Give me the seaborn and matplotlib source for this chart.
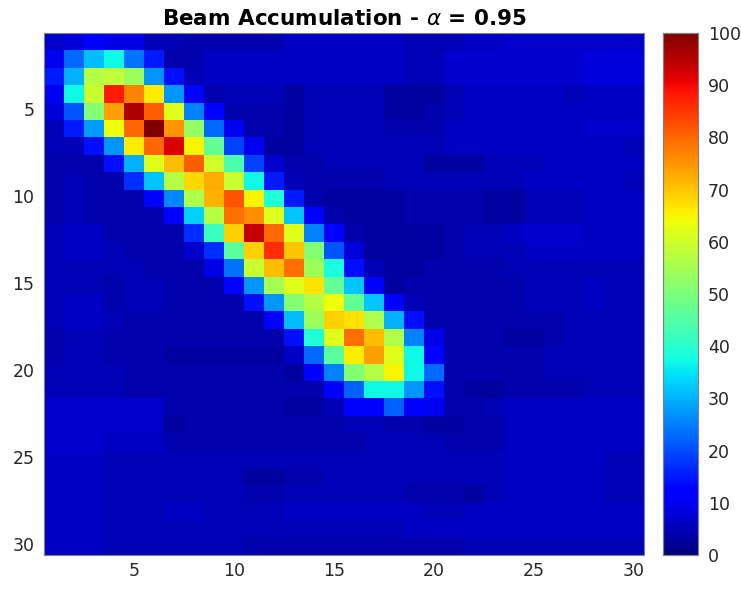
import numpy as np
import pandas as pd
import matplotlib
matplotlib.use("Agg")
import matplotlib.pyplot as plt
import seaborn as sns

# Beam accumulation values (row 1 at top, column 1 at left)
rows = [
    [7,8,12,9,9,5,5,4,4,4,4,4,6,6,6,6,6,6,5,5,5,6,6,7,7,7,7,7,7,7],
    [10,23,31,37,24,15,4,4,6,6,6,6,6,6,6,6,6,6,5,5,7,7,7,7,7,7,7,8,8,8],
    [15,30,57,58,54,27,14,5,6,6,6,6,6,6,6,6,6,6,5,5,7,7,7,7,7,7,7,8,8,8],
    [10,37,59,88,77,66,27,12,4,5,5,5,3,5,5,5,5,3,3,3,5,6,6,6,6,6,5,6,6,6],
    [8,21,51,74,96,81,62,25,11,4,4,4,3,5,5,5,5,3,3,4,5,6,6,6,6,6,6,6,6,6],
    [5,15,28,64,80,100,75,53,23,10,4,4,3,5,5,5,5,4,4,4,6,6,6,6,6,6,6,7,7,7],
    [5,5,14,27,66,80,92,65,47,19,10,3,3,5,5,5,5,5,5,5,6,6,6,6,6,6,6,6,6,5],
    [4,4,4,14,30,62,71,81,60,44,19,7,4,4,5,5,5,5,5,3,3,3,5,5,5,6,6,6,6,6],
    [4,5,4,4,17,32,57,68,73,59,37,15,5,4,4,4,4,5,5,5,5,5,5,5,6,6,6,6,6,5],
    [4,5,4,4,4,12,26,56,72,82,65,39,15,4,3,3,3,3,4,4,4,4,3,3,5,5,5,6,6,6],
    [4,5,4,4,4,4,12,33,57,79,76,62,32,12,4,3,3,3,4,4,4,4,3,3,5,5,5,6,6,6],
    [5,6,6,4,4,4,4,17,42,69,94,80,62,25,12,4,3,3,3,3,4,5,5,6,7,7,7,6,6,6],
    [5,6,6,5,4,4,4,7,17,46,69,86,70,51,21,8,3,3,3,3,4,5,5,5,6,6,6,6,6,6],
    [5,5,5,5,5,4,4,4,9,24,59,71,79,54,38,14,5,3,3,4,4,4,4,5,5,5,5,5,5,5],
    [5,5,5,4,5,5,4,4,4,12,27,55,62,67,47,32,11,3,4,4,4,4,4,4,5,5,5,6,5,5],
    [5,6,6,4,5,5,4,4,4,4,14,27,51,57,64,47,32,12,5,4,4,4,4,4,5,5,5,6,5,5],
    [5,6,6,5,4,4,4,4,4,4,4,12,31,54,69,67,56,30,14,4,4,4,4,4,4,4,5,5,5,5],
    [4,5,5,4,4,4,4,4,4,4,4,4,14,39,62,79,71,56,25,9,4,4,4,3,3,4,5,5,5,5],
    [4,5,5,4,4,4,3,3,3,3,3,3,6,23,46,66,74,62,37,12,4,4,4,4,4,5,5,5,5,5],
    [5,5,5,5,4,4,4,4,4,4,4,4,3,11,25,51,57,65,37,23,4,4,4,4,4,5,5,5,5,5],
    [5,5,5,5,4,4,4,4,4,4,4,4,4,4,12,22,37,37,27,14,4,3,3,4,4,4,4,5,5,5],
    [7,7,7,7,7,7,4,4,4,4,4,4,3,3,5,11,12,22,12,10,4,4,5,6,6,6,6,6,6,6],
    [7,7,7,7,7,7,3,4,4,4,4,4,4,4,4,5,5,4,4,3,3,4,4,6,6,6,6,6,6,6],
    [7,7,7,6,6,6,4,4,4,4,4,4,4,4,4,4,5,5,5,5,4,4,4,6,6,6,6,6,6,6],
    [6,6,6,5,5,5,5,5,5,5,5,5,5,5,5,5,5,5,5,5,5,5,5,6,6,6,6,6,5,5],
    [6,6,6,5,5,5,5,5,5,5,3,3,4,4,5,5,5,5,5,5,5,5,5,6,6,6,6,6,5,5],
    [6,6,6,5,5,5,5,5,5,5,4,4,5,5,5,5,5,5,4,4,4,3,5,6,6,6,6,6,5,5],
    [6,6,6,5,5,5,6,6,5,5,5,5,6,6,6,6,6,6,6,5,5,6,6,6,6,6,6,6,6,6],
    [6,6,6,5,5,5,5,5,5,5,5,5,5,5,5,5,5,5,6,6,6,6,6,6,6,6,6,6,6,6],
    [6,6,6,5,5,5,5,5,5,5,4,4,4,4,4,4,4,4,4,4,4,5,5,5,5,5,5,5,5,5],
]
row_labels = list(range(1, 31))
col_labels = list(range(1, 31))
axis_ticks = [5, 10, 15, 20, 25, 30]
cbar_ticks = [0, 10, 20, 30, 40, 50, 60, 70, 80, 90, 100]
title = r"Beam Accumulation - $\alpha$ = 0.95"

df = pd.DataFrame(rows, index=row_labels, columns=col_labels)

sns.set_style("white")
plt.rcParams["font.family"] = ["DejaVu Sans"]
plt.rcParams["mathtext.fontset"] = "dejavusans"

W, H = 741, 593
fig = plt.figure(figsize=(W / 100, H / 100), dpi=100)
ax = fig.add_axes([44 / W, (H - 555) / H, 600 / W, 522 / H])
cax = fig.add_axes([663 / W, (H - 555) / H, 35 / W, 522 / H])

sns.heatmap(df, ax=ax, cmap="jet", vmin=0, vmax=100, cbar_ax=cax,
            cbar_kws={"ticks": cbar_ticks}, square=False, linewidths=0)

tc = "#262626"
pos = [t - 0.5 for t in axis_ticks]
ax.set_xticks(pos)
ax.set_xticklabels([str(t) for t in axis_ticks], rotation=0)
ax.set_yticks(pos)
ax.set_yticklabels([str(t) for t in axis_ticks], rotation=0)
ax.tick_params(direction="in", length=4.5, width=0.7, colors=tc, labelsize=12.5,
               bottom=True, left=True, top=True, right=True, labelcolor=tc)
ax.tick_params(axis="x", pad=5)
ax.tick_params(axis="y", pad=7)
ax.set_xlabel("")
ax.set_ylabel("")
for s in ax.spines.values():
    s.set_visible(True)
    s.set_color("#808080")
    s.set_linewidth(0.8)

ax.set_title(title, fontsize=15.5, fontweight="bold", color="black", pad=6)

cax.tick_params(direction="in", length=4.5, width=0.7, colors=tc, labelsize=12.5,
                right=True, labelcolor=tc, pad=7)
for s in cax.spines.values():
    s.set_visible(True)
    s.set_color("#808080")
    s.set_linewidth(0.8)

fig.savefig("out.png", dpi=100)
